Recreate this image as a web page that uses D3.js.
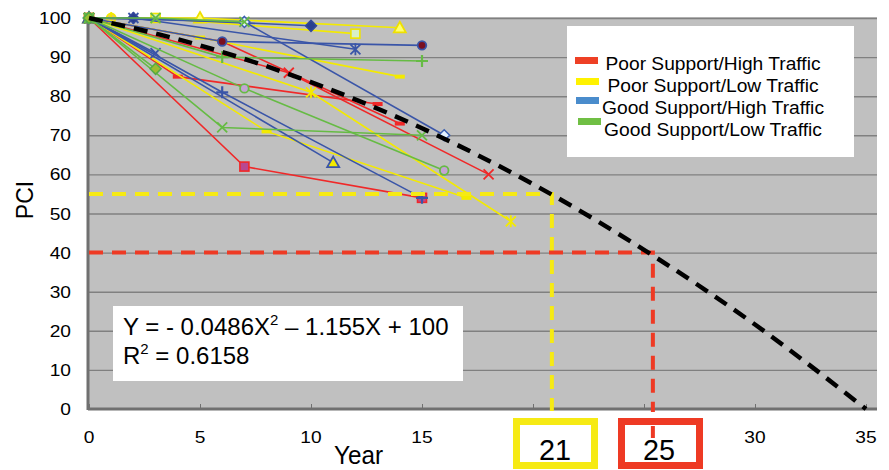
<!DOCTYPE html>
<html><head><meta charset="utf-8">
<script src="https://cdn.jsdelivr.net/npm/d3@7"></script>
<style>
body{margin:0;background:#fff}
svg{display:block}
text{font-family:"Liberation Sans",Arial,sans-serif;fill:#000}
</style>
</head><body>
<svg id="c" width="889" height="470"></svg>
<script>
// ---------- data ----------
const xTicks = [0,5,10,15,20,25,30,35];
// labels for 20 and 25 are hidden behind the answer boxes in the reference
const xTickLabels = ["0","5","10","15","","","30","35"];
const yTicks = [0,10,20,30,40,50,60,70,80,90,100];
const legendLabels = ["Poor Support/High Traffic","Poor Support/Low Traffic","Good Support/High Traffic","Good Support/Low Traffic"];

// Poor support / high traffic
const phSquare = [[0,100],[7,62],[15,54]];
const phCross  = [[0,100],[9,86],[18,60]];
const phDashA  = [[0,100],[4,85],[13,78]];
const phDashB  = [[0,100],[6,94],[14,73]];
// Poor support / low traffic
const plTriangle = [[0,100],[5,100],[14,97.5]];
const plSquare   = [[0,100],[3,100],[12,96]];
const plDashA    = [[0,100],[5,95],[14,85]];
const plDashB    = [[0,100],[8,71],[17,54]];
const plStar     = [[0,100],[10,81],[19,48]];
const plCircle   = [[0,100],[1,100]];
// Good support / high traffic
const ghStar     = [[0,100],[2,100],[12,92]];
const ghDiamond  = [[0,100],[2,100],[10,98]];
const ghDiamondL = [[0,100],[7,99],[16,70]];
const ghCircle   = [[0,100],[6,94],[15,93]];
const ghCross    = [[0,100],[3,91]];
const ghPlus     = [[0,100],[6,81],[15,54]];
const ghTriangle = [[0,100],[11,63]];
// Good support / low traffic
const glCrossTop = [[0,100],[3,100],[7,99]];
const glPlus     = [[0,100],[6,90],[15,89]];
const glCircle   = [[0,100],[7,82],[16,61]];
const glCross    = [[0,100],[6,72],[15,70]];
const glDiamond  = [[0,100],[3,87]];

// fitted trend
const fitX = [0,5,10,15,20,25,30,35];
const fitY = [100,93,83.6,71.8,57.5,40.7,21.6,0];
// guide lines: [year, PCI]
const yellowGuide = [20.85,55];
const redGuide = [25.4,40];
const boxLabels = ["21","25"];
const eqText = ["Y = - 0.0486X","2"," \u2013 1.155X + 100"];
const r2Text = ["R","2"," = 0.6158"];

// ---------- styles ----------
const C = {red:"#f02828", yel:"#f3ea00", blue:"#3a55a8", green:"#66bb44"};
const series = [
  {d:phSquare, c:C.red, m:"square", fill:"#b84890", st:C.red},
  {d:phCross,  c:C.red, m:"x", st:C.red},
  {d:phDashA,  c:C.red, m:"dash", fill:C.red},
  {d:phDashB,  c:C.red, m:"dash", fill:C.red},
  {d:plTriangle, c:C.yel, m:"triangle", fill:"#ffff70", st:"#efe000"},
  {d:plSquare,   c:C.yel, m:"square", fill:"#d8efc8", st:"#efe400"},
  {d:plDashA,    c:C.yel, m:"dash", fill:C.yel},
  {d:plDashB,    c:C.yel, m:"dash", fill:C.yel},
  {d:plStar,     c:C.yel, m:"star", st:C.yel},
  {d:plCircle,   c:C.yel, m:"circleplus", fill:"#e8c860", st:C.yel},
  {d:ghStar,     c:C.blue, m:"star", st:C.blue},
  {d:ghDiamond,  c:C.blue, m:"diamond", fill:"#2a3f8f", st:"#34489a"},
  {d:ghDiamondL, c:C.blue, m:"diamond", fill:"#e4f2ff", st:"#3a5fb0"},
  {d:ghCircle,   c:C.blue, m:"circle", fill:"#7a1020", st:C.blue},
  {d:ghCross,    c:C.blue, m:"x", st:C.blue},
  {d:ghPlus,     c:C.blue, m:"plus", st:C.blue},
  {d:ghTriangle, c:C.blue, m:"triangle", fill:"#f3ea00", st:C.blue},
  {d:glCrossTop, c:C.green, m:"x", st:C.green},
  {d:glPlus,     c:C.green, m:"plus", st:C.green},
  {d:glCircle,   c:C.green, m:"circle", fill:"#c4a4d4", st:C.green},
  {d:glCross,    c:C.green, m:"x", st:C.green},
  {d:glDiamond,  c:C.green, m:"diamond", fill:"#9cbc30", st:"#55aa44"}
];
const legendColors = ["#ee4025","#fff200","#4a8ccc","#70bf44"];

// ---------- chart ----------
const svg = d3.select("#c");
const L = 88, R = 877, T = 17, B = 409;
const x = d3.scaleLinear().domain([0,35]).range([89,866]);
const y = d3.scaleLinear().domain([0,100]).range([409,18]);

svg.append("rect").attr("x",L).attr("y",T).attr("width",R-L).attr("height",B-T).attr("fill","#c0c0c0");

// gridlines
svg.append("g").attr("transform",`translate(${L},0)`)
  .call(d3.axisLeft(y).tickValues(yTicks.filter(v=>v>0)).tickSize(-(R-L)).tickFormat(""))
  .call(g=>{g.select(".domain").remove(); g.selectAll("line").attr("stroke","#808080").attr("stroke-width",1.4);});

// bottom axis with inward ticks
svg.append("g").attr("transform",`translate(0,${B})`)
  .call(d3.axisBottom(x).tickValues(xTicks).tickSize(-5).tickFormat(""))
  .call(g=>{g.select(".domain").remove(); g.selectAll("line").attr("stroke","#707070").attr("stroke-width",1);});
svg.append("line").attr("x1",L).attr("x2",R).attr("y1",B).attr("y2",B).attr("stroke","#707070").attr("stroke-width",3);
svg.append("line").attr("x1",L).attr("x2",L).attr("y1",T).attr("y2",B+1).attr("stroke","#707070").attr("stroke-width",3);

// tick labels
svg.append("g").selectAll("text").data(yTicks).join("text")
  .attr("transform",d=>`translate(71,${y(d)+6}) scale(1.13,1)`)
  .attr("text-anchor","end").style("font-size","17px").text(d=>d);
svg.append("g").selectAll("text").data(xTicks.filter((d,i)=>xTickLabels[i]!=="")).join("text")
  .attr("transform",d=>`translate(${x(d)},443) scale(1.13,1)`)
  .attr("text-anchor","middle").style("font-size","17px").text(d=>xTickLabels[xTicks.indexOf(d)]);

// axis titles
svg.append("text").attr("transform","translate(33,200) rotate(-90)").attr("text-anchor","middle")
  .style("font-size","23px").text("PCI");
svg.append("text").attr("x",334).attr("y",464).attr("textLength",49).attr("lengthAdjust","spacingAndGlyphs")
  .style("font-size","26px").text("Year");

// series
const line = d3.line().x(d=>x(d[0])).y(d=>y(d[1]));
function marker(g, s, p){
  const px = x(p[0]), py = y(p[1]);
  const t = `translate(${px},${py})`;
  const sw = 1.8;
  switch(s.m){
    case "square":
      g.append("rect").attr("x",px-4.5).attr("y",py-4.5).attr("width",9).attr("height",9)
        .attr("fill",s.fill).attr("stroke",s.st).attr("stroke-width",1.6); break;
    case "diamond":
      g.append("path").attr("transform",t).attr("d","M0,-5.5L5.5,0L0,5.5L-5.5,0Z")
        .attr("fill",s.fill).attr("stroke",s.st).attr("stroke-width",1.5); break;
    case "triangle":
      g.append("path").attr("transform",t).attr("d","M0,-6L6,4.5L-6,4.5Z")
        .attr("fill",s.fill).attr("stroke",s.st).attr("stroke-width",1.8); break;
    case "circle":
      g.append("circle").attr("cx",px).attr("cy",py).attr("r",4.3)
        .attr("fill",s.fill).attr("stroke",s.st).attr("stroke-width",1.8); break;
    case "circleplus":
      g.append("circle").attr("cx",px).attr("cy",py).attr("r",4.5)
        .attr("fill",s.fill).attr("stroke",s.st).attr("stroke-width",1.8);
      g.append("path").attr("transform",t).attr("d","M-6,0H6M0,-6V6").attr("stroke",s.st).attr("stroke-width",sw); break;
    case "x":
      g.append("path").attr("transform",t).attr("d","M-5,-5L5,5M-5,5L5,-5").attr("stroke",s.st).attr("stroke-width",sw).attr("fill","none"); break;
    case "plus":
      g.append("path").attr("transform",t).attr("d","M-6,0H6M0,-6V6").attr("stroke",s.st).attr("stroke-width",2.2).attr("fill","none"); break;
    case "star":
      g.append("path").attr("transform",t).attr("d","M-5,-5L5,5M-5,5L5,-5M0,-6V6").attr("stroke",s.st).attr("stroke-width",sw).attr("fill","none"); break;
    case "dash":
      g.append("rect").attr("x",px-5).attr("y",py-2).attr("width",10).attr("height",4).attr("fill",s.fill); break;
  }
}
const sg = svg.append("g");
series.forEach(s=>{
  const g = sg.append("g");
  g.append("path").attr("d",line(s.d)).attr("fill","none").attr("stroke",s.c).attr("stroke-width",1.6);
  s.d.forEach(p=>marker(g,s,p));
});

// guide lines
const guide = (pts, col) => svg.append("path").attr("d",d3.line()(pts)).attr("fill","none")
  .attr("stroke",col).attr("stroke-width",4).attr("stroke-dasharray","14,9");
guide([[x(0),y(yellowGuide[1])],[x(yellowGuide[0]),y(yellowGuide[1])],[x(yellowGuide[0]),411]],"#f6ea14");
guide([[x(0),y(redGuide[1])],[x(redGuide[0]),y(redGuide[1])],[x(redGuide[0]),412]],"#ee3a24");

// fitted curve
const fitPts = fitX.map((v,i)=>[v,fitY[i]]);
svg.append("path").attr("d",d3.line().x(d=>x(d[0])).y(d=>y(d[1])).curve(d3.curveMonotoneX)(fitPts))
  .attr("fill","none").attr("stroke","#000").attr("stroke-width",4.5).attr("stroke-dasharray","14,9");

// legend
svg.append("rect").attr("x",567).attr("y",26).attr("width",287).attr("height",131).attr("fill","#fff");
const legY = [70,92,114,136], swY = [57,78,97,118], swX = [575,576,576,578], legW = [215,211,222,218];
legendLabels.forEach((t,i)=>{
  svg.append("rect").attr("x",swX[i]).attr("y",swY[i]).attr("width",23).attr("height",7).attr("fill",legendColors[i]);
  svg.append("text").attr("x",713).attr("y",legY[i]).attr("text-anchor","middle")
    .attr("textLength",legW[i]).attr("lengthAdjust","spacingAndGlyphs").style("font-size","17.5px").text(t);
});

// equation box
svg.append("rect").attr("x",113).attr("y",306).attr("width",350).attr("height",75).attr("fill","#fff");
const eq = svg.append("text").attr("x",123).attr("y",335).style("font-size","24px");
eq.append("tspan").text(eqText[0]);
eq.append("tspan").attr("dy",-10).style("font-size","15px").text(eqText[1]);
eq.append("tspan").attr("dy",10).text(eqText[2]);
const r2 = svg.append("text").attr("x",123).attr("y",364).style("font-size","24px");
r2.append("tspan").text(r2Text[0]);
r2.append("tspan").attr("dy",-10).style("font-size","15px").text(r2Text[1]);
r2.append("tspan").attr("dy",10).text(r2Text[2]);

// answer boxes
const boxes = [{x:516.5,c:"#f6ea14",cx:555},{x:621.5,c:"#ee3a24",cx:659}];
boxes.forEach((b,i)=>{
  svg.append("rect").attr("x",b.x).attr("y",421.5).attr("width",78).attr("height",44)
    .attr("fill","#fff").attr("stroke",b.c).attr("stroke-width",7);
  svg.append("text").attr("x",b.cx).attr("y",460).attr("text-anchor","middle")
    .attr("textLength",32).attr("lengthAdjust","spacingAndGlyphs").style("font-size","30px").text(boxLabels[i]);
});
// red guide continues into its box
svg.append("line").attr("x1",x(redGuide[0])).attr("x2",x(redGuide[0])).attr("y1",426).attr("y2",438)
  .attr("stroke","#ee3a24").attr("stroke-width",4);
</script>
</body></html>
